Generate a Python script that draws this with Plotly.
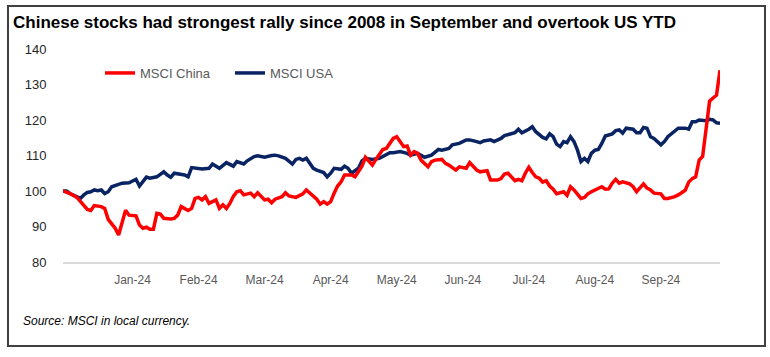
import plotly.graph_objects as go

# Trading-day index (0 = 29 Dec 2023 ... 189 = 30 Sep 2024)
china_idx = [0, 2, 4, 6, 7, 8, 9, 11, 12, 13, 14, 15, 16, 17, 18, 19, 21, 22, 23, 24, 25, 26, 27, 28, 29, 31, 32, 33, 34, 36, 37, 38, 39, 40, 41, 42, 43, 44, 45, 46, 47, 48, 49, 50, 51, 52, 54, 55, 56, 58, 59, 60, 61, 63, 64, 65, 67, 69, 70, 72, 73, 74, 75, 76, 77, 78, 79, 80, 81, 83, 84, 85, 86, 87, 88, 89, 90, 92, 93, 94, 95, 96, 97, 98, 99, 100, 101, 102, 103, 105, 106, 107, 109, 110, 111, 113, 114, 116, 117, 119, 120, 122, 123, 125, 126, 127, 128, 129, 130, 131, 132, 133, 134, 135, 136, 137, 138, 139, 140, 141, 142, 143, 144, 145, 146, 147, 148, 149, 150, 151, 152, 154, 155, 156, 157, 158, 159, 160, 161, 163, 164, 165, 166, 167, 168, 169, 170, 172, 173, 174, 176, 177, 179, 180, 181, 182, 183, 184, 185, 186, 187, 188, 189]
china_val = [100.0, 99.3, 98.2, 95.8, 94.8, 94.5, 95.9, 95.6, 95.1, 92.0, 90.8, 89.5, 87.6, 91.5, 94.6, 93.2, 93.0, 90.4, 89.5, 89.8, 89.2, 89.2, 93.7, 93.5, 92.3, 92.1, 92.3, 93.2, 95.6, 94.5, 95.1, 97.9, 98.2, 97.5, 98.4, 96.5, 97.0, 97.5, 95.1, 96.1, 95.1, 96.5, 98.5, 99.8, 100.1, 98.9, 99.4, 98.4, 99.5, 97.5, 97.7, 96.7, 97.7, 98.4, 99.5, 98.6, 98.2, 99.2, 100.3, 98.4, 97.7, 96.3, 97.0, 96.3, 97.0, 99.4, 101.4, 102.6, 104.5, 104.5, 104.0, 105.5, 107.0, 109.5, 108.3, 107.3, 108.9, 111.7, 112.0, 113.4, 114.8, 115.3, 113.9, 112.5, 112.7, 110.1, 111.1, 110.6, 108.7, 106.8, 108.3, 108.7, 108.9, 107.8, 107.3, 105.9, 106.8, 106.4, 108.0, 105.9, 105.4, 105.7, 103.1, 103.1, 103.5, 104.8, 105.0, 104.0, 102.9, 103.3, 102.9, 105.0, 106.7, 105.2, 104.0, 103.6, 102.5, 102.9, 101.4, 100.5, 99.2, 99.5, 99.8, 98.8, 101.2, 100.3, 98.9, 97.9, 98.2, 99.2, 99.8, 100.8, 101.2, 100.5, 100.6, 102.2, 103.3, 102.2, 102.6, 102.0, 101.2, 99.8, 100.8, 102.0, 100.8, 100.3, 99.4, 99.2, 97.9, 97.9, 98.4, 98.9, 100.2, 102.5, 103.5, 104.0, 108.7, 109.7, 117.5, 125.3, 126.2, 127.0, 134.0]

usa_idx = [0, 1, 2, 4, 5, 6, 7, 8, 9, 10, 11, 12, 13, 14, 16, 17, 19, 20, 21, 22, 23, 24, 25, 27, 28, 29, 30, 31, 32, 35, 36, 37, 40, 42, 43, 45, 47, 49, 50, 52, 53, 55, 56, 58, 60, 61, 62, 64, 66, 67, 68, 69, 70, 71, 72, 73, 75, 76, 77, 78, 80, 81, 82, 83, 85, 86, 87, 89, 91, 92, 94, 95, 97, 99, 100, 102, 104, 106, 108, 109, 111, 112, 114, 116, 117, 119, 120, 121, 123, 124, 126, 127, 129, 130, 131, 132, 134, 135, 136, 138, 139, 140, 141, 142, 143, 144, 145, 146, 147, 148, 149, 150, 151, 152, 153, 154, 155, 156, 158, 159, 160, 161, 162, 164, 165, 166, 167, 168, 169, 170, 172, 173, 174, 176, 177, 179, 180, 181, 182, 183, 185, 186, 187, 188, 189]
usa_val = [100.0, 100.0, 99.3, 98.2, 97.9, 98.9, 99.6, 99.8, 100.3, 100.1, 100.3, 99.3, 99.8, 101.2, 101.9, 102.2, 102.3, 102.7, 103.3, 101.4, 102.6, 103.9, 103.6, 104.0, 104.7, 105.4, 104.5, 103.9, 105.0, 104.5, 104.0, 106.6, 106.2, 106.4, 107.6, 106.4, 108.0, 107.0, 108.3, 107.6, 108.5, 109.7, 109.9, 109.5, 110.0, 110.1, 109.9, 109.2, 107.6, 108.9, 109.2, 108.7, 109.2, 107.6, 106.4, 105.9, 105.2, 104.0, 105.0, 106.4, 106.1, 107.0, 106.4, 105.0, 106.4, 108.5, 109.2, 108.9, 109.2, 109.7, 110.8, 110.8, 111.1, 110.6, 110.1, 110.6, 109.5, 110.1, 111.7, 111.5, 112.0, 113.0, 113.4, 114.4, 114.4, 113.9, 113.6, 114.1, 114.4, 113.9, 114.8, 115.6, 116.0, 116.4, 117.4, 116.4, 117.4, 118.1, 116.7, 115.1, 114.7, 116.1, 115.3, 113.2, 112.5, 113.9, 113.6, 115.3, 113.9, 111.5, 108.3, 109.2, 108.3, 110.6, 111.5, 111.7, 113.4, 115.5, 116.1, 117.0, 117.2, 116.3, 117.7, 117.4, 116.4, 116.4, 117.9, 117.7, 115.3, 114.8, 113.0, 113.9, 115.3, 117.0, 117.7, 117.7, 117.4, 119.5, 119.5, 120.0, 119.8, 120.2, 120.0, 119.2, 119.1]

tick_idx = [20, 39, 58, 77, 96, 115, 134, 153, 172]
tick_labels = ["Jan-24", "Feb-24", "Mar-24", "Apr-24", "May-24", "Jun-24", "Jul-24", "Aug-24", "Sep-24"]
y_ticks = [80, 90, 100, 110, 120, 130, 140]

FONT = "Arial, 'Liberation Sans', sans-serif"

fig = go.Figure()
fig.add_trace(go.Scatter(x=usa_idx, y=usa_val, mode="lines", name="MSCI USA",
                         line=dict(color="#0A2463", width=3.5)))
fig.add_trace(go.Scatter(x=china_idx, y=china_val, mode="lines", name="MSCI China",
                         line=dict(color="#FF0000", width=3.5)))

W, H = 770, 357
L, R, T, B = 63, 50, 49, 95
pw, ph = W - L - R, H - T - B

def px(x):
    return (x - L) / pw

def py(y):
    return (H - B - y) / ph

fig.update_layout(
    width=W, height=H,
    margin=dict(l=L, r=R, t=T, b=B),
    paper_bgcolor="white", plot_bgcolor="white",
    font=dict(family=FONT, color="#404040"),
    title=dict(text="<b>Chinese stocks had strongest rally since 2008 in September and overtook US YTD</b>",
               x=13 / W, y=1 - 22 / H, xref="container", yref="container",
               xanchor="left", yanchor="middle",
               font=dict(family=FONT, size=17, color="#000000")),
    showlegend=True,
    legend=dict(orientation="h", x=px(100), y=py(73), xanchor="left", yanchor="middle",
                traceorder="reversed", font=dict(family=FONT, size=13, color="#595959"),
                bgcolor="rgba(0,0,0,0)", itemwidth=30, entrywidth=85, entrywidthmode="pixels"),
    xaxis=dict(range=[0, 189], tickmode="array", tickvals=tick_idx, ticktext=tick_labels,
               showgrid=False, zeroline=False, showline=True, linecolor="#D9D9D9", linewidth=1.5,
               ticks="outside", ticklen=6, tickcolor="rgba(0,0,0,0)",
               tickfont=dict(family=FONT, size=12, color="#595959")),
    yaxis=dict(range=[80, 140], tickmode="array", tickvals=y_ticks,
               showgrid=False, zeroline=False, showline=False,
               ticks="outside", ticklen=13, tickcolor="rgba(0,0,0,0)",
               tickfont=dict(family=FONT, size=13, color="#262626")),
)

fig.add_shape(type="rect", xref="paper", yref="paper",
              x0=px(8), x1=px(765), y0=py(346), y1=py(6),
              line=dict(color="#404040", width=2), fillcolor="rgba(0,0,0,0)", layer="below")

fig.add_annotation(text="<i>Source: MSCI in local currency.</i>", xref="paper", yref="paper",
                   x=px(21), y=py(321), xanchor="left", yanchor="middle", showarrow=False,
                   font=dict(family=FONT, size=12, color="#000000"))

fig.write_html("out.html", config={"displayModeBar": False},
               post_script="document.body.style.margin='0';")
